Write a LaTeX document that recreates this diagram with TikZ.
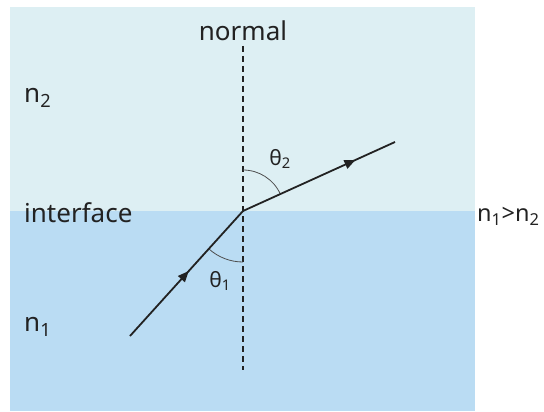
\documentclass[tikz,border=0pt]{standalone}
\usepackage{fontspec}
\setmainfont{Noto Sans}
\usetikzlibrary{decorations.markings,arrows.meta}
\definecolor{topblue}{HTML}{DDEFF3}
\definecolor{botblue}{HTML}{BADCF3}
\definecolor{rayc}{HTML}{222222}
\tikzset{
  lbl/.style={font=\fontsize{26}{30}\selectfont, text=rayc, inner sep=0pt},
  anglbl/.style={font=\fontsize{21}{24}\selectfont, text=rayc, inner sep=0pt},
  ray/.style={draw=rayc, line width=1.8pt},
  normalline/.style={draw=rayc, line width=1.6pt, dash pattern=on 6pt off 4pt},
  anglearc/.style={draw=rayc!80, line width=0.8pt},
  midarrow/.style={postaction={decorate}, decoration={markings, mark=at position #1 with {\arrow{Triangle[length=11pt,width=9pt]}}}}
}
\begin{document}
\begin{tikzpicture}[x=1pt,y=-1pt]
\useasboundingbox (0,0) rectangle (544,412);
\fill[topblue] (10,7) rectangle (475,211);
\fill[botblue] (10,211) rectangle (475,411);
\coordinate (O) at (243,211);
\coordinate (ntop) at (243,46);
\coordinate (nbot) at (243,370);
\coordinate (S) at (130,336);
\coordinate (E) at (395,142);
\draw[normalline] (ntop) -- (nbot);
\draw[anglearc] (243,170) arc[start angle=-90, end angle=-24.4, radius=41];
\draw[anglearc] (243,262) arc[start angle=90, end angle=132.1, radius=51];
\draw[ray, midarrow=0.52] (S) -- (O);
\draw[ray, midarrow=0.74] (O) -- (E);
\node[lbl] (normal) at (243,31) {normal};
\node[lbl, anchor=west] (n2) at (24,98) {n\textsubscript{2}};
\node[lbl, anchor=west] (interface) at (24,213) {interface};
\node[lbl, anchor=west] (n1) at (24,327) {n\textsubscript{1}};
\node[lbl, anchor=west, font=\fontsize{23.5}{27}\selectfont] (cmp) at (477,216) {n\textsubscript{1}>n\textsubscript{2}};
\node[anglbl] (t2) at (280,159) {θ\textsubscript{2}};
\node[anglbl] (t1) at (220,281) {θ\textsubscript{1}};
\end{tikzpicture}
\end{document}
